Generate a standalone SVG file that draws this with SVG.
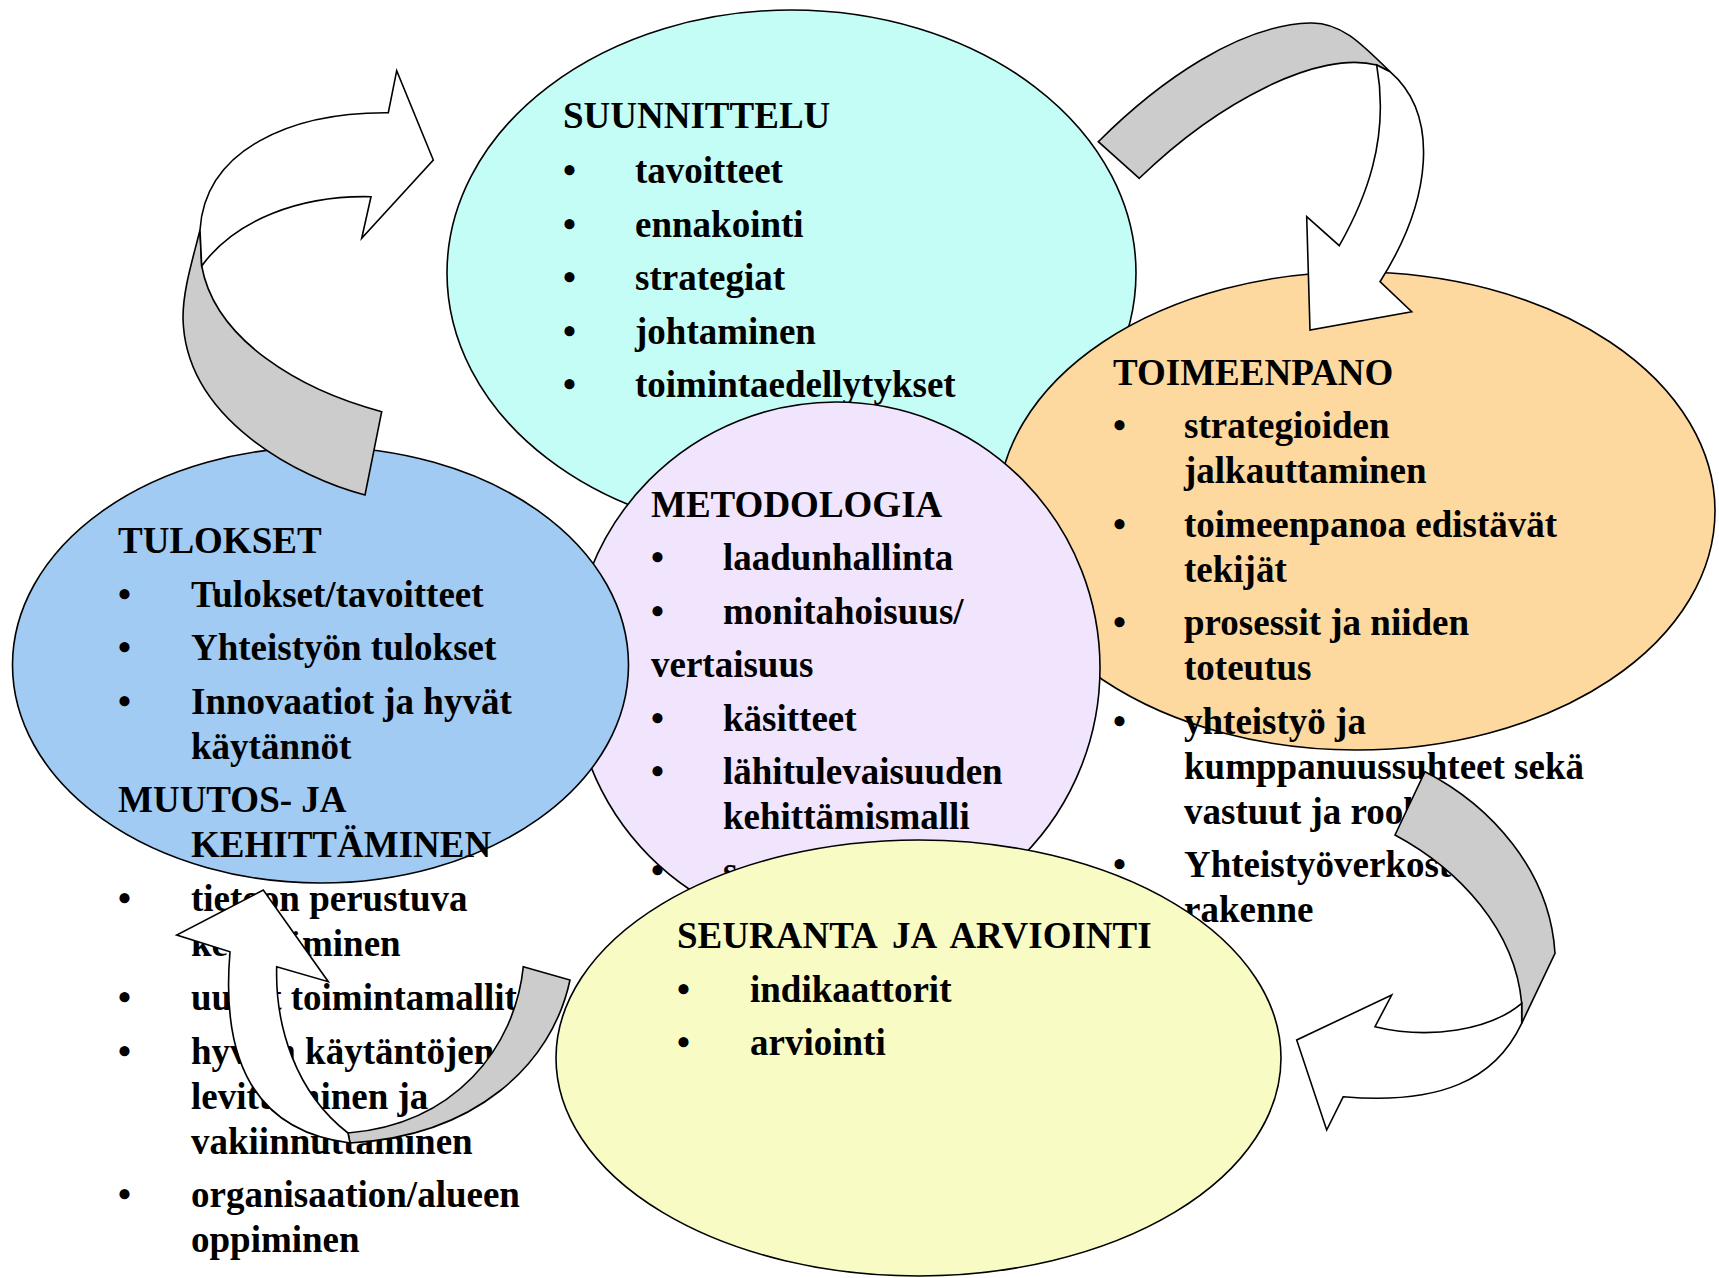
<svg xmlns="http://www.w3.org/2000/svg" width="1719" height="1278" viewBox="0 0 1719 1278">
<style>
.e{stroke:#000;stroke-width:1.6}
.t{font-family:"Liberation Serif","Times New Roman",serif;font-weight:bold;font-size:37px;fill:#000}
.g{fill:#CCCCCC;stroke:#000;stroke-width:1.6;stroke-linejoin:miter}
.w{fill:#FFFFFF;stroke:#000;stroke-width:1.6;stroke-linejoin:miter}
</style>
<rect width="1719" height="1278" fill="#fff"/>
<g id="suunnittelu">
<ellipse class="e" cx="791.5" cy="273" rx="344.5" ry="263" fill="#C4FCF6"/>
<text class="t" x="563" y="128">SUUNNITTELU</text>
<text class="t" x="563" y="183">•</text><text class="t" x="635" y="183">tavoitteet</text>
<text class="t" x="563" y="236.5">•</text><text class="t" x="635" y="236.5">ennakointi</text>
<text class="t" x="563" y="290">•</text><text class="t" x="635" y="290">strategiat</text>
<text class="t" x="563" y="343.5">•</text><text class="t" x="635" y="343.5">johtaminen</text>
<text class="t" x="563" y="397">•</text><text class="t" x="635" y="397">toimintaedellytykset</text>
</g>
<g id="toimeenpano">
<ellipse class="e" cx="1356.5" cy="511" rx="358.5" ry="239" fill="#FDD9A0"/>
<text class="t" x="1113" y="385">TOIMEENPANO</text>
<text class="t" x="1113" y="438">•</text><text class="t" x="1184" y="438">strategioiden</text>
<text class="t" x="1184" y="483">jalkauttaminen</text>
<text class="t" x="1113" y="536.5">•</text><text class="t" x="1184" y="536.5">toimeenpanoa edistävät</text>
<text class="t" x="1184" y="581.5">tekijät</text>
<text class="t" x="1113" y="635">•</text><text class="t" x="1184" y="635">prosessit ja niiden</text>
<text class="t" x="1184" y="680">toteutus</text>
<text class="t" x="1113" y="733.5">•</text><text class="t" x="1184" y="733.5">yhteistyö ja</text>
<text class="t" x="1184" y="778.5">kumppanuussuhteet sekä</text>
<text class="t" x="1184" y="823.5">vastuut ja roolit</text>
<text class="t" x="1113" y="877">•</text><text class="t" x="1184" y="877">Yhteistyöverkoston</text>
<text class="t" x="1184" y="922">rakenne</text>
</g>
<g id="metodologia">
<ellipse class="e" cx="836" cy="668" rx="264" ry="266" fill="#F1E5FD"/>
<text class="t" x="651" y="517">METODOLOGIA</text>
<text class="t" x="651" y="570">•</text><text class="t" x="723" y="570">laadunhallinta</text>
<text class="t" x="651" y="623.5">•</text><text class="t" x="723" y="623.5">monitahoisuus/</text>
<text class="t" x="651" y="677">vertaisuus</text>
<text class="t" x="651" y="730.5">•</text><text class="t" x="723" y="730.5">käsitteet</text>
<text class="t" x="651" y="784">•</text><text class="t" x="723" y="784">lähitulevaisuuden</text>
<text class="t" x="723" y="829">kehittämismalli</text>
<text class="t" x="651" y="882.5">•</text><text class="t" x="723" y="882.5">s</text>
</g>
<g id="tulokset">
<ellipse class="e" cx="320.5" cy="665" rx="308" ry="218" fill="#A1CBF3"/>
<text class="t" x="118" y="553">TULOKSET</text>
<text class="t" x="118" y="607">•</text><text class="t" x="191" y="607">Tulokset/tavoitteet</text>
<text class="t" x="118" y="660">•</text><text class="t" x="191" y="660">Yhteistyön tulokset</text>
<text class="t" x="118" y="714">•</text><text class="t" x="191" y="714">Innovaatiot ja hyvät</text>
<text class="t" x="191" y="759">käytännöt</text>
<text class="t" x="118" y="812">MUUTOS- JA</text>
<text class="t" x="191" y="857">KEHITTÄMINEN</text>
<text class="t" x="118" y="911">•</text><text class="t" x="191" y="911">tietoon perustuva</text>
<text class="t" x="191" y="956">kehittäminen</text>
<text class="t" x="118" y="1010">•</text><text class="t" x="191" y="1010">uudet toimintamallit</text>
<text class="t" x="118" y="1063.5">•</text><text class="t" x="191" y="1063.5">hyvien käytäntöjen</text>
<text class="t" x="191" y="1108.5">levittäminen ja</text>
<text class="t" x="191" y="1153.5">vakiinnuttaminen</text>
<text class="t" x="118" y="1207">•</text><text class="t" x="191" y="1207">organisaation/alueen</text>
<text class="t" x="191" y="1252">oppiminen</text>
</g>
<g id="seuranta">
<ellipse class="e" cx="918.5" cy="1058" rx="362.5" ry="218" fill="#F8FBC4"/>
<text class="t" x="677" y="948" word-spacing="7">SEURANTA JA ARVIOINTI</text>
<text class="t" x="677" y="1002">•</text><text class="t" x="750" y="1002">indikaattorit</text>
<text class="t" x="677" y="1055">•</text><text class="t" x="750" y="1055">arviointi</text>
</g>
<g id="connectors">
<g id="arrow-tulokset-suunnittelu">
<path class="g" d="M365,495 C300,478 185,420 183,318 C183,290 192,262 200,230 L201.7,266 C215,340 300,390 381.7,411.7 Z"/>
<path class="w" d="M200,230 C205,150 290,112 388.3,112.7 L396.7,70.7 L433.3,160 L361.7,238.3 L371,196.7 C300,195 235,220 201.7,266 Z"/>
</g>
<g id="arrow-suunnittelu-toimeenpano">
<path class="g" d="M1098.3,141.7 C1160,80 1240,25 1310,23 C1340,22 1360,42 1390,71.7 L1376.7,65 C1320,50 1220,100 1139.3,178.3 Z"/>
<path class="w" d="M1390,71.7 C1440,115 1432,200 1380,281.7 L1411.7,311.7 L1310,330 L1306.7,216.7 L1339.3,245.7 C1365,200 1390,140 1376.7,65 Z"/>
</g>
<g id="arrow-toimeenpano-seuranta">
<path class="g" d="M1395,835 L1425,771.7 C1490,805 1550,870 1555,953.3 L1521.7,1023.3 L1521.7,1003.3 C1515,930 1460,870 1395,835 Z"/>
<path class="w" d="M1521.7,1023.3 C1495,1080 1440,1105 1343.3,1096.7 L1326.7,1130 L1296.7,1040 L1391.7,995 L1375,1026.7 C1430,1040 1490,1030 1521.7,1003.3 Z"/>
</g>
<g id="arrow-seuranta-tulokset">
<path class="g" d="M523.3,966.7 L570,980 C552,1065 475,1136 350,1143 L348,1133 C455,1124 515,1048 523.3,966.7 Z"/>
<path class="w" d="M350,1143 C262,1132 220,1070 230,951.7 L176.7,935 L263.3,890 L328.3,981.7 L276.7,966.7 C275,1025 295,1092 348,1133 Z"/>
</g>
</g>
</svg>
